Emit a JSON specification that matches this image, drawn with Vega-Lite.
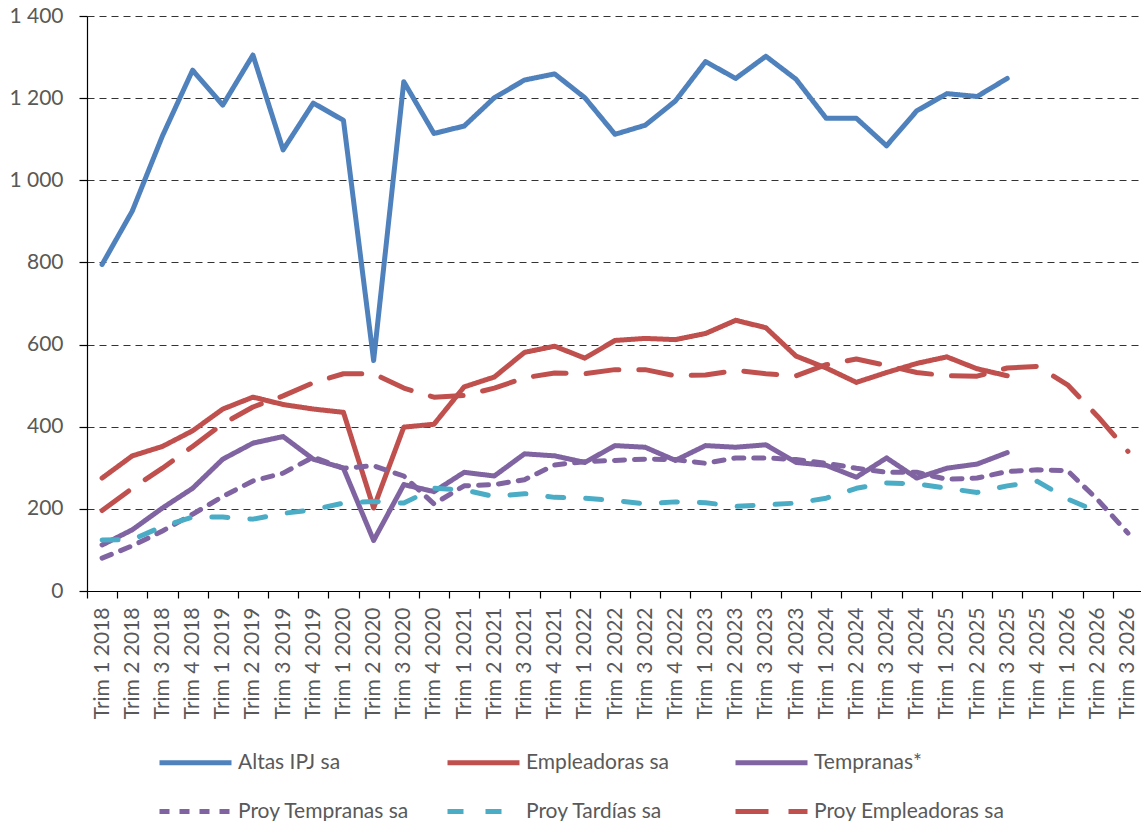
{
  "$schema": "https://vega.github.io/schema/vega-lite/v6.json",
  "autosize": {"type": "none"},
  "padding": {"left": 87, "top": 16, "right": 0, "bottom": 230},
  "width": 1056,
  "height": 575,
  "background": "white",
  "config": {
    "view": {"stroke": null},
    "font": "Lato",
    "axis": {"labelFont": "Lato", "labelFontSize": 21, "labelColor": "#595959", "titleFontSize": 0},
    "legend": {"labelFont": "Lato", "labelFontSize": 21, "labelColor": "#595959"}
  },
  "data": {
    "values": [
      {"q": "Trim 1 2018", "a": 795, "e": 275, "t": 112, "pt": 80, "pd": 124, "pe": 196},
      {"q": "Trim 2 2018", "a": 925, "e": 329, "t": 149, "pt": 110, "pd": 125, "pe": 250},
      {"q": "Trim 3 2018", "a": 1108, "e": 352, "t": 202, "pt": 146, "pd": 157, "pe": 299},
      {"q": "Trim 4 2018", "a": 1268, "e": 390, "t": 250, "pt": 187, "pd": 180, "pe": 352},
      {"q": "Trim 1 2019", "a": 1183, "e": 443, "t": 321, "pt": 230, "pd": 180, "pe": 407},
      {"q": "Trim 2 2019", "a": 1305, "e": 472, "t": 360, "pt": 268, "pd": 175, "pe": 448},
      {"q": "Trim 3 2019", "a": 1074, "e": 454, "t": 376, "pt": 287, "pd": 189, "pe": 475},
      {"q": "Trim 4 2019", "a": 1188, "e": 443, "t": 321, "pt": 326, "pd": 198, "pe": 507},
      {"q": "Trim 1 2020", "a": 1146, "e": 435, "t": 299, "pt": 299, "pd": 214, "pe": 529},
      {"q": "Trim 2 2020", "a": 561, "e": 202, "t": 123, "pt": 305, "pd": 218, "pe": 529},
      {"q": "Trim 3 2020", "a": 1240, "e": 399, "t": 259, "pt": 280, "pd": 214, "pe": 494},
      {"q": "Trim 4 2020", "a": 1114, "e": 406, "t": 242, "pt": 212, "pd": 250, "pe": 472},
      {"q": "Trim 1 2021", "a": 1132, "e": 497, "t": 289, "pt": 256, "pd": 246, "pe": 476},
      {"q": "Trim 2 2021", "a": 1201, "e": 521, "t": 280, "pt": 259, "pd": 230, "pe": 494},
      {"q": "Trim 3 2021", "a": 1244, "e": 581, "t": 334, "pt": 271, "pd": 237, "pe": 519},
      {"q": "Trim 4 2021", "a": 1259, "e": 596, "t": 329, "pt": 307, "pd": 228, "pe": 531},
      {"q": "Trim 1 2022", "a": 1201, "e": 567, "t": 313, "pt": 315, "pd": 226, "pe": 529},
      {"q": "Trim 2 2022", "a": 1112, "e": 610, "t": 354, "pt": 318, "pd": 220, "pe": 539},
      {"q": "Trim 3 2022", "a": 1134, "e": 615, "t": 350, "pt": 321, "pd": 212, "pe": 539},
      {"q": "Trim 4 2022", "a": 1193, "e": 612, "t": 318, "pt": 320, "pd": 217, "pe": 524},
      {"q": "Trim 1 2023", "a": 1289, "e": 627, "t": 354, "pt": 311, "pd": 215, "pe": 526},
      {"q": "Trim 2 2023", "a": 1248, "e": 659, "t": 350, "pt": 324, "pd": 206, "pe": 537},
      {"q": "Trim 3 2023", "a": 1302, "e": 641, "t": 356, "pt": 324, "pd": 210, "pe": 529},
      {"q": "Trim 4 2023", "a": 1246, "e": 572, "t": 313, "pt": 320, "pd": 214, "pe": 524},
      {"q": "Trim 1 2024", "a": 1151, "e": 543, "t": 306, "pt": 311, "pd": 226, "pe": 551},
      {"q": "Trim 2 2024", "a": 1151, "e": 508, "t": 277, "pt": 299, "pd": 250, "pe": 565},
      {"q": "Trim 3 2024", "a": 1084, "e": 532, "t": 324, "pt": 289, "pd": 263, "pe": 549},
      {"q": "Trim 4 2024", "a": 1169, "e": 554, "t": 275, "pt": 289, "pd": 261, "pe": 532},
      {"q": "Trim 1 2025", "a": 1211, "e": 570, "t": 299, "pt": 272, "pd": 250, "pe": 524},
      {"q": "Trim 2 2025", "a": 1204, "e": 541, "t": 309, "pt": 275, "pd": 240, "pe": 523},
      {"q": "Trim 3 2025", "a": 1248, "e": 524, "t": 337, "pt": 291, "pd": 256, "pe": 543},
      {"q": "Trim 4 2025", "a": null, "e": null, "t": null, "pt": 295, "pd": 267, "pe": 547},
      {"q": "Trim 1 2026", "a": null, "e": null, "t": null, "pt": 293, "pd": 224, "pe": 502},
      {"q": "Trim 2 2026", "a": null, "e": null, "t": null, "pt": 222, "pd": 193, "pe": 425},
      {"q": "Trim 3 2026", "a": null, "e": null, "t": null, "pt": 141, "pd": null, "pe": 340}
    ]
  },
  "transform": [
    {"fold": ["a", "e", "t", "pt", "pd", "pe"], "as": ["key", "v"]},
    {"lookup": "key", "from": {"data": {"values": [
      {"key": "a", "serie": "Altas IPJ sa", "o": 6},
      {"key": "e", "serie": "Empleadoras sa", "o": 5},
      {"key": "t", "serie": "Tempranas*", "o": 4},
      {"key": "pt", "serie": "Proy Tempranas sa", "o": 3},
      {"key": "pd", "serie": "Proy Tardías sa", "o": 2},
      {"key": "pe", "serie": "Proy Empleadoras sa", "o": 1}
    ]}, "key": "key", "fields": ["serie", "o"]}},
    {"filter": "datum.v != null"}
  ],
  "mark": {"type": "line", "strokeWidth": 5, "strokeCap": "round", "strokeJoin": "round"},
  "encoding": {
    "x": {
      "field": "q", "type": "ordinal", "sort": null,
      "scale": {"type": "band", "paddingInner": 0, "paddingOuter": 0},
      "axis": {
        "title": null, "labelAngle": -90, "labelPadding": 9, "tickBand": "extent",
        "domainColor": "#000000", "domainWidth": 1.2, "tickColor": "#000000", "tickSize": 7, "tickWidth": 1.2,
        "labelOverlap": false, "grid": false
      }
    },
    "y": {
      "field": "v", "type": "quantitative",
      "scale": {"domain": [0, 1400], "nice": false},
      "axis": {
        "title": null, "values": [0, 200, 400, 600, 800, 1000, 1200, 1400],
        "labelExpr": "replace(format(datum.value, ','), ',', ' ')",
        "labelPadding": 16, "tickSize": 8, "tickColor": "#000000", "tickWidth": 1.2,
        "domainColor": "#000000", "domainWidth": 1.2,
        "grid": true, "gridColor": "#333333", "gridDash": [7, 5], "gridWidth": 1
      }
    },
    "color": {
      "field": "serie", "type": "nominal",
      "scale": {
        "domain": ["Altas IPJ sa", "Empleadoras sa", "Tempranas*", "Proy Tempranas sa", "Proy Tardías sa", "Proy Empleadoras sa"],
        "range": ["#4F81BD", "#C0504D", "#8064A2", "#8064A2", "#4BACC6", "#C0504D"]
      },
      "legend": {
        "title": null, "orient": "none", "legendX": 70, "legendY": 708,
        "direction": "horizontal", "columns": 3, "gridAlign": "all", "columnPadding": 8, "rowPadding": -30,
        "symbolType": "stroke", "symbolSize": 5184, "symbolStrokeWidth": 5, "labelOffset": 4,
        "padding": 0, "labelLimit": 400
      }
    },
    "strokeDash": {
      "field": "serie", "type": "nominal",
      "scale": {
        "domain": ["Altas IPJ sa", "Empleadoras sa", "Tempranas*", "Proy Tempranas sa", "Proy Tardías sa", "Proy Empleadoras sa"],
        "range": [[1, 0], [1, 0], [1, 0], [10, 10], [16, 22], [33, 20]]
      },
      "legend": null
    },
    "order": {"field": "o", "type": "quantitative"}
  }
}
